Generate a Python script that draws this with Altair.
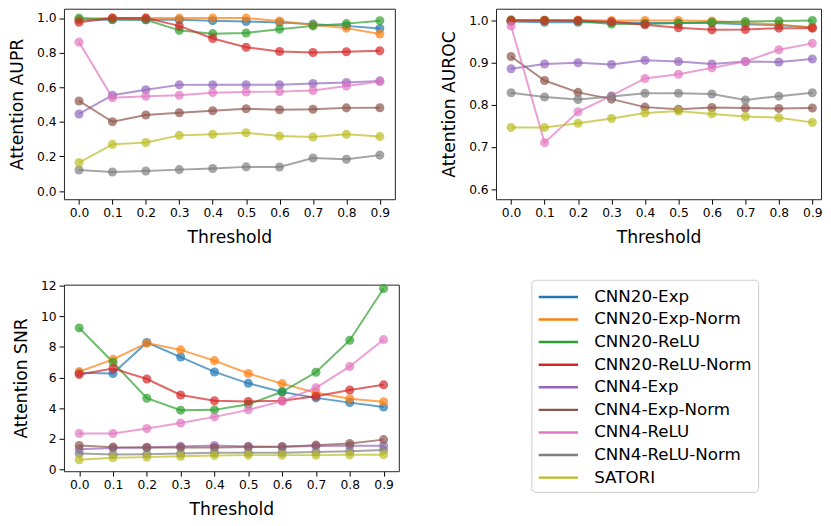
import altair as alt
import pandas as pd

thresholds = [0.0, 0.1, 0.2, 0.3, 0.4, 0.5, 0.6, 0.7, 0.8, 0.9]
models = ["CNN20-Exp", "CNN20-Exp-Norm", "CNN20-ReLU", "CNN20-ReLU-Norm",
          "CNN4-Exp", "CNN4-Exp-Norm", "CNN4-ReLU", "CNN4-ReLU-Norm", "SATORI"]
colors = ["#1f77b4", "#ff7f0e", "#2ca02c", "#d62728", "#9467bd",
          "#8c564b", "#e377c2", "#7f7f7f", "#bcbd22"]

aupr = {
    "CNN20-Exp":       [0.99, 0.99, 0.99, 0.99, 0.985, 0.98, 0.975, 0.965, 0.955, 0.94],
    "CNN20-Exp-Norm":  [0.99, 1.0, 1.0, 1.0, 1.0, 1.0, 0.983, 0.96, 0.942, 0.908],
    "CNN20-ReLU":      [1.0, 0.995, 0.99, 0.929, 0.91, 0.914, 0.936, 0.955, 0.968, 0.985],
    "CNN20-ReLU-Norm": [0.976, 1.0, 1.0, 0.955, 0.882, 0.831, 0.807, 0.801, 0.805, 0.811],
    "CNN4-Exp":        [0.446, 0.554, 0.586, 0.614, 0.615, 0.615, 0.615, 0.622, 0.628, 0.637],
    "CNN4-Exp-Norm":   [0.521, 0.401, 0.44, 0.453, 0.464, 0.476, 0.47, 0.473, 0.481, 0.482],
    "CNN4-ReLU":       [0.861, 0.539, 0.548, 0.554, 0.569, 0.573, 0.575, 0.581, 0.607, 0.633],
    "CNN4-ReLU-Norm":  [0.122, 0.11, 0.116, 0.124, 0.131, 0.14, 0.139, 0.191, 0.184, 0.208],
    "SATORI":          [0.165, 0.27, 0.281, 0.322, 0.328, 0.337, 0.318, 0.313, 0.328, 0.315],
}
auroc = {
    "CNN20-Exp":       [0.997, 0.995, 0.995, 0.995, 0.993, 0.993, 0.993, 0.99, 0.988, 0.983],
    "CNN20-Exp-Norm":  [1.0, 1.0, 1.0, 0.999, 0.999, 0.999, 0.998, 0.993, 0.99, 0.982],
    "CNN20-ReLU":      [1.0, 0.999, 0.998, 0.991, 0.991, 0.993, 0.995, 0.997, 0.998, 0.999],
    "CNN20-ReLU-Norm": [0.999, 0.999, 0.999, 0.996, 0.989, 0.982, 0.977, 0.978, 0.981, 0.981],
    "CNN4-Exp":        [0.885, 0.896, 0.899, 0.895, 0.905, 0.902, 0.896, 0.902, 0.901, 0.908],
    "CNN4-Exp-Norm":   [0.914, 0.857, 0.829, 0.813, 0.794, 0.789, 0.793, 0.792, 0.791, 0.792],
    "CNN4-ReLU":       [0.986, 0.71, 0.783, 0.821, 0.862, 0.872, 0.887, 0.902, 0.93, 0.945],
    "CNN4-ReLU-Norm":  [0.828, 0.818, 0.812, 0.819, 0.827, 0.827, 0.825, 0.811, 0.82, 0.828],
    "SATORI":          [0.746, 0.746, 0.756, 0.767, 0.78, 0.785, 0.778, 0.772, 0.769, 0.758],
}
snr = {
    "CNN20-Exp":       [6.31, 6.27, 8.29, 7.34, 6.37, 5.63, 5.06, 4.68, 4.37, 4.09],
    "CNN20-Exp-Norm":  [6.39, 7.19, 8.25, 7.81, 7.11, 6.27, 5.61, 5.02, 4.62, 4.43],
    "CNN20-ReLU":      [9.24, 7.0, 4.66, 3.88, 3.9, 4.26, 5.08, 6.35, 8.44, 11.81],
    "CNN20-ReLU-Norm": [6.2, 6.6, 5.91, 4.87, 4.49, 4.45, 4.49, 4.79, 5.19, 5.53],
    "CNN4-Exp":        [1.33, 1.42, 1.45, 1.52, 1.58, 1.52, 1.5, 1.55, 1.56, 1.56],
    "CNN4-Exp-Norm":   [1.58, 1.47, 1.45, 1.45, 1.45, 1.48, 1.5, 1.6, 1.71, 1.96],
    "CNN4-ReLU":       [2.36, 2.36, 2.68, 3.04, 3.44, 3.9, 4.47, 5.34, 6.73, 8.48],
    "CNN4-ReLU-Norm":  [1.05, 0.99, 1.0, 1.05, 1.1, 1.1, 1.1, 1.15, 1.2, 1.28],
    "SATORI":          [0.65, 0.78, 0.82, 0.88, 0.93, 0.95, 0.95, 0.95, 0.97, 0.98],
}

FONT = "DejaVu Sans"

legend = alt.Legend(
    orient="none", legendX=476, legendY=276, title=None,
    symbolType="M-1,0H3", symbolSize=400, symbolStrokeWidth=2.5,
    symbolOpacity=1, labelFontSize=17, labelFont=FONT, labelColor="#000",
    rowPadding=3, padding=6, strokeColor="#cccccc", fillColor="white",
    cornerRadius=4, labelOffset=35, labelLimit=300,
)


def to_frame(vals):
    rows = []
    for m in models:
        for t, v in zip(thresholds, vals[m]):
            rows.append({"Threshold": t, "value": v, "model": m})
    return pd.DataFrame(rows)


def panel(vals, ytitle, ydomain, yticks, yfmt, width, height, xdomain):
    df = to_frame(vals)
    base = alt.Chart(df).encode(
        x=alt.X("Threshold:Q",
                scale=alt.Scale(domain=xdomain, nice=False, zero=False),
                axis=alt.Axis(values=thresholds, format=".1f", title="Threshold")),
        y=alt.Y("value:Q",
                scale=alt.Scale(domain=ydomain, nice=False, zero=False),
                axis=alt.Axis(values=yticks, format=yfmt, title=ytitle)),
        color=alt.Color("model:N", scale=alt.Scale(domain=models, range=colors),
                        legend=legend),
    )
    lines = base.mark_line(strokeWidth=2, opacity=0.7)
    pts = base.mark_circle(size=85, opacity=0.7)
    return alt.layer(lines, pts).properties(width=width, height=height)


p1 = panel(aupr, "Attention AUPR", [-0.047, 1.054], [0, 0.2, 0.4, 0.6, 0.8, 1.0], ".1f",
           337, 194, [-0.045, 0.945])
p2 = panel(auroc, "Attention AUROC", [0.576, 1.027], [0.6, 0.7, 0.8, 0.9, 1.0], ".1f",
           331, 194, [-0.045, 0.926])
p3 = panel(snr, "Attention SNR", [-0.1, 12.06], [0, 2, 4, 6, 8, 10, 12], "d",
           341, 190, [-0.045, 0.945])

top = alt.hconcat(p1, p2, spacing=45)
chart = alt.vconcat(top, p3, spacing=32).properties(
    padding={"top": -5, "left": 0, "right": 0, "bottom": 0}
).configure_axis(
    labelFont=FONT, labelFontSize=12.5, labelColor="#000",
    titleFont=FONT, titleFontSize=17.5, titleFontWeight="normal", titleColor="#000",
    titlePadding=10, labelPadding=3, tickSize=5, tickColor="#000",
    grid=False, domain=False,
).configure_view(stroke="#222", strokeWidth=1)

chart.save("out.html", embed_options={"renderer": "svg", "actions": False})
